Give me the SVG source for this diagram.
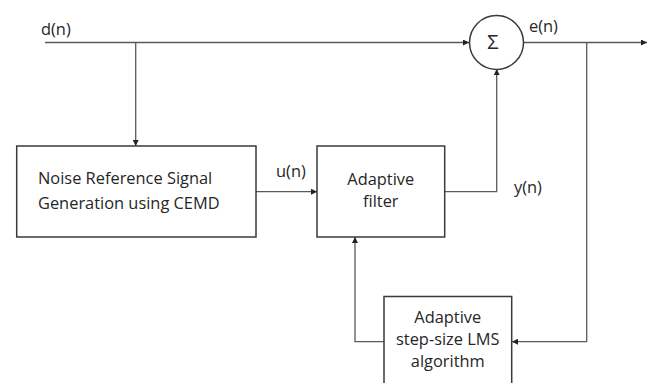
<svg xmlns="http://www.w3.org/2000/svg" width="651" height="383" viewBox="0 0 651 383">
<style>
.box{fill:#fff;stroke:#3a3a3a;stroke-width:1.5}
.ln{fill:none;stroke:#5a5a5a;stroke-width:1.3}
.t{font-family:"Open Sans","Noto Sans",sans-serif;font-size:16.4px;fill:#262626}
.tc{text-anchor:middle}
</style>
<defs>
<marker id="ah" viewBox="0 0 10 10" refX="10" refY="5" markerWidth="6" markerHeight="6" markerUnits="userSpaceOnUse" orient="auto">
<path d="M0,0 L10,5 L0,10 z" fill="#222"/>
</marker>
</defs>
<rect width="651" height="383" fill="#fff"/>
<g id="connectors">
<path class="ln" d="M45,42.5 H469" marker-end="url(#ah)"/>
<path class="ln" d="M135.7,42.5 V146" marker-end="url(#ah)"/>
<path class="ln" d="M523.5,42.5 H647" marker-end="url(#ah)"/>
<path class="ln" d="M256,191.7 H317" marker-end="url(#ah)"/>
<path class="ln" d="M444.7,191.7 H496.7 V69" marker-end="url(#ah)"/>
<path class="ln" d="M586.7,42.5 V341.7 H512" marker-end="url(#ah)"/>
<path class="ln" d="M384,341.7 H355 V237" marker-end="url(#ah)"/>
</g>
<g id="labels">
<text class="t" x="41" y="35">d(n)</text>
<text class="t" x="529" y="32">e(n)</text>
<text class="t" x="276" y="177">u(n)</text>
<text class="t" x="514" y="193">y(n)</text>
</g>
<g id="sum">
<circle cx="496.5" cy="42.5" r="27" fill="#fff" stroke="#3a3a3a" stroke-width="1.5"/>
<text class="t tc" x="493" y="49" style="font-size:20px">Σ</text>
</g>
<g id="noise-ref">
<rect class="box" x="16.7" y="146" width="239.3" height="91"/>
<text class="t" x="38" y="184">Noise Reference Signal</text>
<text class="t" x="38" y="209">Generation using CEMD</text>
</g>
<g id="adaptive-filter">
<rect class="box" x="317" y="146" width="127.7" height="91"/>
<text class="t tc" x="380.8" y="185">Adaptive</text>
<text class="t tc" x="380.8" y="207">filter</text>
</g>
<g id="lms">
<rect class="box" x="384" y="296.5" width="127.7" height="95"/>
<text class="t tc" x="447.8" y="322.5">Adaptive</text>
<text class="t tc" x="447.8" y="345">step-size LMS</text>
<text class="t tc" x="447.8" y="367">algorithm</text>
</g>
</svg>
